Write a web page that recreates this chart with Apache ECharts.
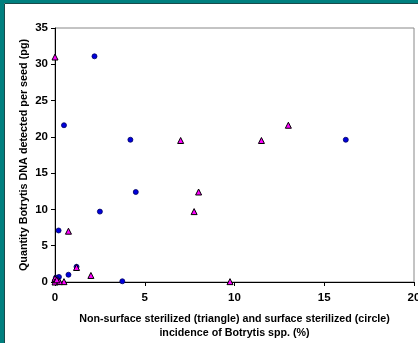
<!DOCTYPE html>
<html>
<head>
<meta charset="utf-8">
<script src="https://cdn.jsdelivr.net/npm/echarts@6/dist/echarts.min.js"></script>
<style>
html,body{margin:0;padding:0;background:#fff;}
#c{width:418px;height:343px;}
</style>
</head>
<body>
<div id="c"></div>
<script>
// Surface sterilized (circle): [incidence %, pg DNA per seed]
const circleX = [2.2, 0.5, 4.2, 16.2, 4.5, 2.5, 0.2, 1.2, 0.75, 0.22, 3.75, 0, 0.1, 0.2, 0.05];
const circleY = [31.1, 21.6, 19.6, 19.6, 12.4, 9.7, 7.1, 2.1, 1.0, 0.7, 0.1, 0.2, 0.4, 0.0, 0.6];
// Non-surface sterilized (triangle)
const triX = [0, 7.0, 11.5, 13.0, 8.0, 7.75, 0.75, 1.2, 2.0, 9.75, 0.5, 0, 0, 0.25, 0.1];
const triY = [31.0, 19.5, 19.5, 21.6, 12.4, 9.7, 7.0, 2.0, 0.9, 0.05, 0.05, 0.5, 0.0, 0.05, 0.3];
const xTicks = [0, 5, 10, 15, 20];
const yTicks = [0, 5, 10, 15, 20, 25, 30, 35];

const font = '"Liberation Sans", Arial, sans-serif';
const chart = echarts.init(document.getElementById('c'), null, {renderer: 'canvas'});
chart.setOption({
  animation: false,
  backgroundColor: '#fff',
  grid: {left: 55, top: 28, width: 359, height: 254, show: true, borderColor: '#888', borderWidth: 1, backgroundColor: '#fff', containLabel: false, outerBoundsMode: 'none'},
  xAxis: {
    type: 'value', min: xTicks[0], max: xTicks[xTicks.length - 1], interval: 5,
    axisLine: {show: true, lineStyle: {color: '#000', width: 1}},
    axisTick: {show: true, inside: false, length: 4, lineStyle: {color: '#000'}},
    splitLine: {show: false},
    axisLabel: {color: '#000', fontWeight: 'bold', fontSize: 11.5, fontFamily: font, margin: 10},
    name: 'Non-surface sterilized (triangle) and surface sterilized (circle)\nincidence of Botrytis spp. (%)',
    nameLocation: 'middle', nameGap: 30, nameMoveOverlap: false,
    nameTextStyle: {color: '#000', fontWeight: 'bold', fontSize: 10.7, fontFamily: font, lineHeight: 14}
  },
  yAxis: {
    type: 'value', min: yTicks[0], max: yTicks[yTicks.length - 1], interval: 5,
    axisLine: {show: true, lineStyle: {color: '#000', width: 1}},
    axisTick: {show: true, inside: false, length: 4, lineStyle: {color: '#000'}},
    splitLine: {show: false},
    axisLabel: {color: '#000', fontWeight: 'bold', fontSize: 11.5, fontFamily: font, margin: 7},
    name: 'Quantity Botrytis DNA detected per seed (pg)',
    nameLocation: 'middle', nameGap: 25, nameMoveOverlap: false,
    nameTextStyle: {color: '#000', fontWeight: 'bold', fontSize: 10.8, fontFamily: font}
  },
  graphic: [
    {type: 'rect', shape: {x: 0, y: 0, width: 4, height: 343}, style: {fill: '#00807f'}, z: 100},
    {type: 'rect', shape: {x: 0, y: 0, width: 418, height: 3}, style: {fill: '#00807f'}, z: 100},
    {type: 'line', shape: {x1: 4.5, y1: 3.5, x2: 4.5, y2: 343}, style: {stroke: '#1a4a4a', lineWidth: 1}, z: 100},
    {type: 'line', shape: {x1: 4.5, y1: 3.5, x2: 418, y2: 3.5}, style: {stroke: '#1a4a4a', lineWidth: 1}, z: 100}
  ],
  series: [
    {
      type: 'scatter', symbol: 'triangle', symbolSize: 6,
      itemStyle: {color: '#ff00ff', borderColor: '#000', borderWidth: 1, opacity: 1},
      data: triX.map((x, i) => [x, triY[i]]), z: 3
    },
    {
      type: 'scatter', symbol: 'circle', symbolSize: 5,
      itemStyle: {color: '#0000dd', borderColor: '#000060', borderWidth: 0.8, opacity: 1},
      data: circleX.map((x, i) => [x, circleY[i]]), z: 2
    }
  ]
});
</script>
</body>
</html>
